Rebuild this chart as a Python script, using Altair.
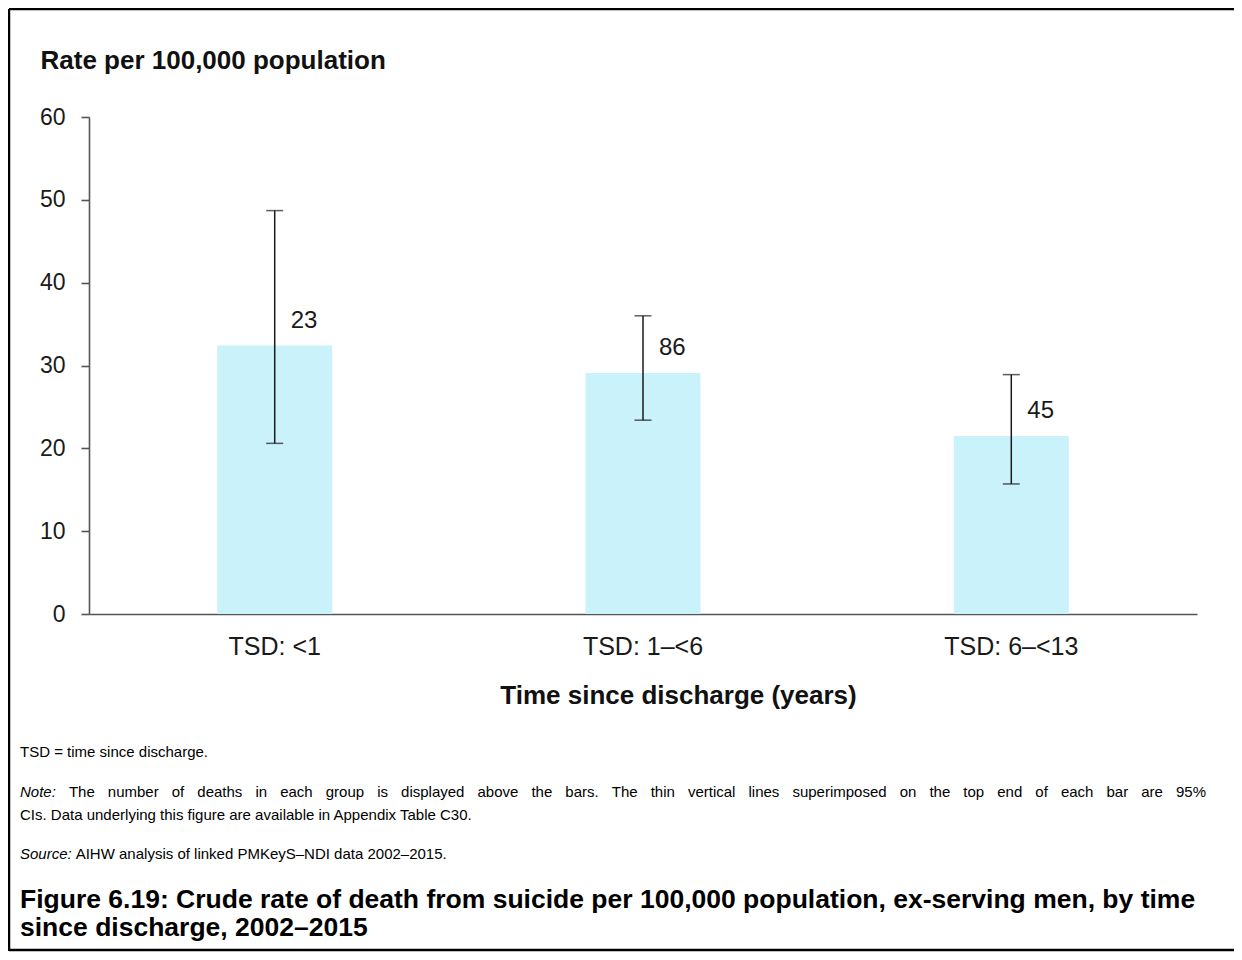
import altair as alt
import pandas as pd

categories = ["TSD: <1", "TSD: 1–<6", "TSD: 6–<13"]
rates = [32.4, 29.1, 21.5]
ci_low = [20.6, 23.4, 15.7]
ci_high = [48.7, 36.0, 28.9]
deaths = [23, 86, 45]
y_ticks = [0, 10, 20, 30, 40, 50, 60]

y_title = "Rate per 100,000 population"
x_title = "Time since discharge (years)"
abbrev_note = "TSD = time since discharge."
note_label = "Note:"
note_line1 = "The number of deaths in each group is displayed above the bars. The thin vertical lines superimposed on the top end of each bar are 95%"
note_line2 = "CIs. Data underlying this figure are available in Appendix Table C30."
source_label = "Source:"
source_text = "AIHW analysis of linked PMKeyS–NDI data 2002–2015."
caption1 = "Figure 6.19: Crude rate of death from suicide per 100,000 population, ex-serving men, by time"
caption2 = "since discharge, 2002–2015"

df = pd.DataFrame({
    "cat": categories,
    "rate": rates,
    "lo": ci_low,
    "hi": ci_high,
    "deaths": deaths,
})

FONT = "Liberation Sans"
W, H = 1108, 497
AX = "#555555"
OX, OY = 89, 117  # plot origin on screen
NOTE_SIZE = 15

# Arial / Liberation Sans advance widths (per 1000 em) for justifying the note line
_AW = {" ": 278, "%": 889, ",": 278, ".": 278, ":": 278, "5": 556, "9": 556}
_AW.update({c: w for c, w in zip("abcdefghijklmnopqrstuvwxyz",
    [556, 556, 500, 556, 556, 278, 556, 556, 222, 222, 500, 222, 833,
     556, 556, 556, 556, 333, 500, 278, 556, 500, 722, 500, 500, 500])})
_AW.update({c: w for c, w in zip("ABCDEFGHIJKLMNOPQRSTUVWXYZ",
    [667, 667, 722, 722, 667, 611, 778, 722, 278, 500, 667, 556, 833,
     722, 778, 667, 778, 722, 667, 611, 722, 667, 944, 667, 667, 611])})


def text_width(s, size):
    return sum(_AW.get(c, 556) for c in s) * size / 1000.0


# justified first line of the note (Note: + words spread to the right margin)
words = [note_label] + note_line1.split(" ")
left, right = 20, 1206
natural = sum(text_width(w, NOTE_SIZE) for w in words)
gap = (right - left - natural) / (len(words) - 1)
xs = []
cur = left
for w in words:
    xs.append(cur - OX)
    cur += text_width(w, NOTE_SIZE) + gap
just_df = pd.DataFrame({"word": words[1:], "px": xs[1:]})

xenc = alt.X(
    "cat:N",
    sort=categories,
    scale=alt.Scale(paddingInner=0.6875, paddingOuter=0.348),
    axis=alt.Axis(
        title=x_title,
        labelAngle=0,
        ticks=False,
        domainColor=AX,
        domainWidth=1.6,
        labelFontSize=25,
        labelFont=FONT,
        labelColor="#1a1a1a",
        labelPadding=20,
        titleFont=FONT,
        titleFontSize=26,
        titleFontWeight="bold",
        titleColor="#111111",
        titleX=589,
        titleY=81,
        titleAlign="center",
        titleBaseline="middle",
    ),
)

yscale = alt.Scale(domain=[0, 60], nice=False)

base = alt.Chart(df)

bars = base.mark_bar(color="#C9F2FB", size=115).encode(
    x=xenc,
    y=alt.Y(
        "rate:Q",
        scale=yscale,
        axis=alt.Axis(
            values=y_ticks,
            grid=False,
            title=y_title,
            titleAngle=0,
            titleAlign="left",
            titleBaseline="middle",
            titleX=-49,
            titleY=-57,
            titleFont=FONT,
            titleFontSize=26,
            titleFontWeight="bold",
            titleColor="#111111",
            domainColor=AX,
            domainWidth=1.6,
            tickColor=AX,
            tickWidth=1.6,
            tickSize=8,
            labelFont=FONT,
            labelFontSize=23,
            labelColor="#1a1a1a",
            labelPadding=16,
        ),
    ),
)

err = base.mark_rule(color="#1a1a1a", strokeWidth=1.5).encode(
    x=alt.X("cat:N", sort=categories),
    y=alt.Y("lo:Q", scale=yscale),
    y2="hi:Q",
)
cap_lo = base.mark_tick(color="#1a1a1a", thickness=1.5, size=17).encode(
    x=alt.X("cat:N", sort=categories),
    y=alt.Y("lo:Q", scale=yscale),
)
cap_hi = base.mark_tick(color="#1a1a1a", thickness=1.5, size=17).encode(
    x=alt.X("cat:N", sort=categories),
    y=alt.Y("hi:Q", scale=yscale),
)
labels = base.mark_text(
    align="left", baseline="middle", dx=16, dy=-25, fontSize=24, font=FONT, color="#1a1a1a"
).encode(
    x=alt.X("cat:N", sort=categories),
    y=alt.Y("rate:Q", scale=yscale),
    text="deaths:Q",
)

one = pd.DataFrame({"k": [0]})


def txt(s, x, y, size=NOTE_SIZE, weight="normal", style="normal"):
    return alt.Chart(one).mark_text(
        text=s, align="left", baseline="middle", font=FONT, fontSize=size,
        fontWeight=weight, fontStyle=style, color="#000000",
    ).encode(x=alt.value(x), y=alt.value(y))


just_line = alt.Chart(just_df).mark_text(
    align="left", baseline="middle", font=FONT, fontSize=NOTE_SIZE, color="#000000"
).encode(
    x=alt.X("px:Q", scale=None),
    y=alt.value(792 - OY),
    text="word:N",
)

src_x = 20 + text_width(source_label, NOTE_SIZE) + 4
notes = [
    txt(abbrev_note, 20 - OX, 752 - OY),
    txt(note_label, 20 - OX, 792 - OY, style="italic"),
    just_line,
    txt(note_line2, 20 - OX, 815 - OY),
    txt(source_label, 20 - OX, 854 - OY, style="italic"),
    txt(source_text, src_x - OX, 854 - OY),
    txt(caption1, 20 - OX, 900 - OY, size=26.5, weight="bold"),
    txt(caption2, 20 - OX, 928 - OY, size=26.5, weight="bold"),
]


def rule(x1, y1, x2, y2):
    return alt.Chart(one).mark_rule(color="#000000", strokeWidth=2.5).encode(
        x=alt.value(x1 - OX), x2=alt.value(x2 - OX), y=alt.value(y1 - OY), y2=alt.value(y2 - OY)
    )


border = [
    rule(9, 9, 9, 951),
    rule(9, 9, 1234, 9),
    rule(9, 950, 1234, 950),
]

chart = alt.layer(bars, err, cap_lo, cap_hi, labels, *notes, *border).properties(
    width=W,
    height=H,
    autosize=alt.AutoSizeParams(type="none"),
    padding={"left": 81, "top": 109, "right": 37, "bottom": 338},
    background="white",
).configure_view(strokeWidth=0)

chart.save("out.html", embed_options={"renderer": "svg", "actions": False})
